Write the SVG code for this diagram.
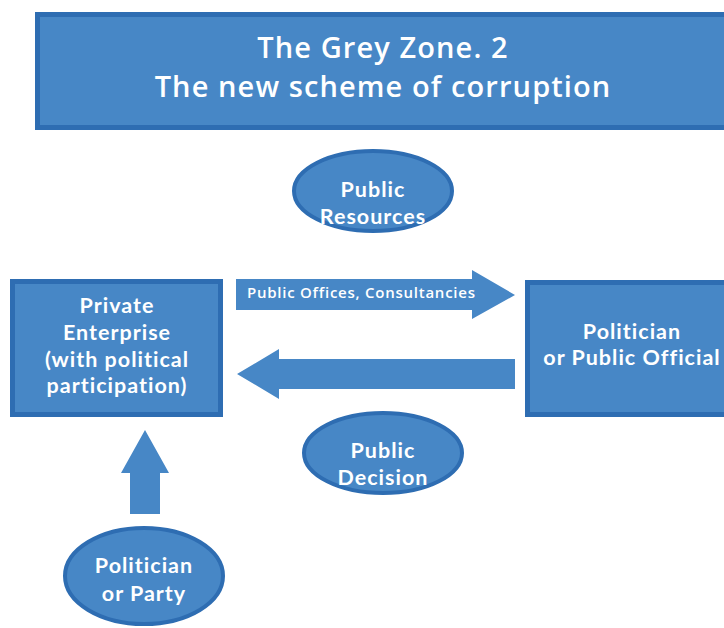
<svg xmlns="http://www.w3.org/2000/svg" width="724" height="628" viewBox="0 0 724 628">
  <defs>
    <style>
      .box { fill: #4787c6; stroke: #2e6db2; stroke-width: 5; }
      .oval { fill: #4787c6; stroke: #2e6db2; stroke-width: 4; }
      .arrow { fill: #4787c6; }
      text { font-family: "Open Sans", "DejaVu Sans", sans-serif; font-weight: 600; fill: #ffffff; text-anchor: middle; }
      .title { font-size: 29px; letter-spacing: 1.1px; }
      .lbl { font-family: Lato, "Open Sans", sans-serif; font-weight: 700; font-size: 21.5px; letter-spacing: 1px; }
      .small { font-size: 15px; letter-spacing: 0.75px; text-anchor: start; }
    </style>
  </defs>

  <g id="title">
    <rect class="box" x="37.5" y="14.5" width="700" height="113"/>
    <text class="title" x="383" y="58">The Grey Zone. 2</text>
    <text class="title" x="383" y="97">The new scheme of corruption</text>
  </g>

  <g id="connectors">
    <!-- Public Offices, Consultancies: enterprise to official -->
    <polygon class="arrow" points="236,279 472,279 472,270 515,295 472,319 472,310 236,310"/>
    <!-- return flow: official to enterprise -->
    <polygon class="arrow" points="515,359 279,359 279,349 237,374 279,399 279,389 515,389"/>
    <!-- party to enterprise -->
    <polygon class="arrow" points="130,514 130,473 121,473 145,430 169,473 160,473 160,514"/>
    <text class="small" x="247" y="298">Public Offices, Consultancies</text>
  </g>

  <g id="private-enterprise">
    <rect class="box" x="12.5" y="281.5" width="208" height="133"/>
    <text class="lbl" x="117" y="313">Private</text>
    <text class="lbl" x="117" y="340">Enterprise</text>
    <text class="lbl" x="117" y="367">(with political</text>
    <text class="lbl" x="117" y="393">participation)</text>
  </g>

  <g id="politician-official">
    <rect class="box" x="527.5" y="282.5" width="210" height="132"/>
    <text class="lbl" x="632" y="339">Politician</text>
    <text class="lbl" x="632" y="365">or Public Official</text>
  </g>

  <g id="public-resources">
    <ellipse class="oval" cx="373" cy="191" rx="79" ry="40"/>
    <text class="lbl" x="373" y="197">Public</text>
    <text class="lbl" x="373" y="224">Resources</text>
  </g>

  <g id="public-decision">
    <ellipse class="oval" cx="383" cy="453" rx="79" ry="40"/>
    <text class="lbl" x="383" y="458">Public</text>
    <text class="lbl" x="383" y="485">Decision</text>
  </g>

  <g id="politician-party">
    <ellipse class="oval" cx="144" cy="576" rx="79" ry="48"/>
    <text class="lbl" x="144" y="573">Politician</text>
    <text class="lbl" x="144" y="601">or Party</text>
  </g>
</svg>
